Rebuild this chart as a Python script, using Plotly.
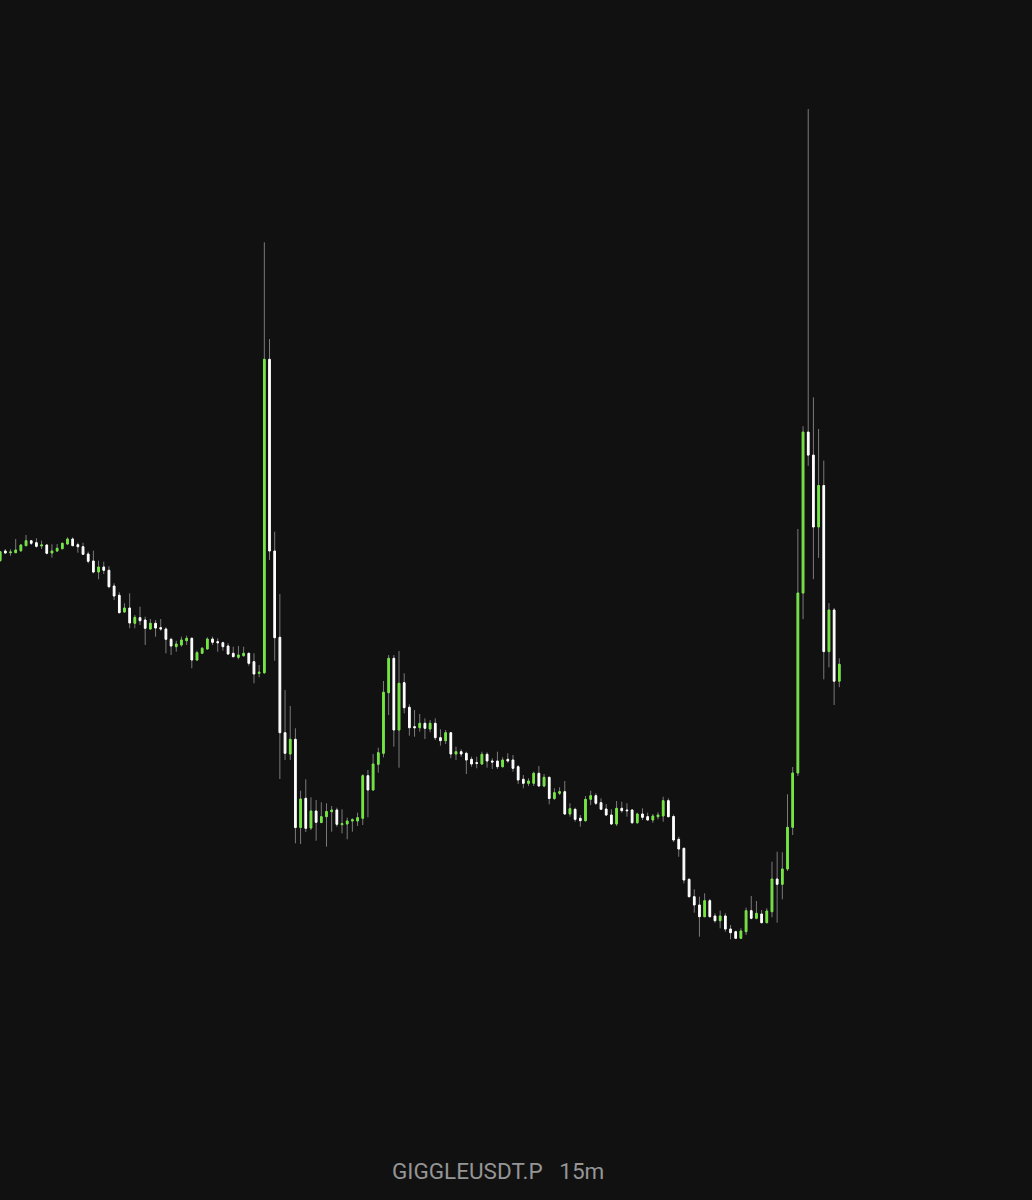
import plotly.graph_objects as go

# Candle data (15m candles), price units arbitrary (axis hidden)
open_ = [639.3, 649, 647.3, 647.3, 649.3, 654.3, 659.3, 657.3, 654, 655,
         647, 649, 651.3, 656, 661, 655.3, 653.3, 646, 639, 628,
         633, 629.7, 614, 604.7, 588, 592, 576.7, 582.3, 580, 571,
         576.7, 572.3, 571, 560.7, 553.3, 555, 559.3, 561.7, 540, 546.7,
         551, 561, 558.3, 557.3, 554, 546.7, 542.7, 544.3, 546.7, 538.3,
         526.7, 527.3, 840.7, 649, 562.7, 467.3, 446, 460.7, 372.5, 401.7,
         372, 389, 377.5, 383.3, 388.3, 390, 375.3, 376, 379, 379,
         381.7, 424.3, 410, 435.7, 446.7, 507.3, 541.7, 470, 517.3, 492.7,
         473.3, 472.3, 476.7, 471, 476.7, 462.3, 459.3, 467.3, 446, 448.3,
         446.7, 440.7, 437.3, 436, 445.7, 439, 439, 433.3, 440.7, 440,
         433.3, 420.7, 416.7, 416.7, 426.7, 414, 422.7, 401.5, 406.7, 408.3,
         386, 390.7, 381.7, 379.3, 400.7, 404.3, 397.3, 391, 385, 376,
         391.7, 390, 390, 377.3, 386, 383.3, 380, 383.3, 384, 399.3,
         383.5, 360.7, 351.7, 320.7, 303.3, 295, 283.3, 299.3, 284, 279.3,
         284, 271, 268.3, 261.7, 268.3, 289.3, 281.7, 286, 277.3, 288.3,
         321, 315.7, 331, 372.7, 427, 607, 767.9, 744.9, 673, 714.5,
         548.4, 590, 518.8]
high = [649, 651, 650.7, 661, 656, 665, 659.7, 661.7, 659.3, 655.7,
        655.7, 656, 657.3, 662.7, 662.7, 657.3, 657.3, 648.3, 649.3, 639.3,
        638.3, 633.7, 616.7, 607.7, 596.7, 606.7, 585, 593.3, 583.3, 581,
        580, 581, 572.7, 562.3, 559.3, 563.3, 564.3, 562.7, 549.3, 553,
        562.7, 563.3, 561.7, 558.3, 556.7, 553.3, 554, 553.3, 547.3, 546.7,
        535, 957.7, 861, 668.3, 606, 510, 494, 471.7, 409.3, 420.7,
        402.7, 400, 397.7, 396.7, 394, 392.3, 390.7, 382.3, 381.7, 387.3,
        425.7, 430, 446, 452.3, 519, 545, 545, 549, 526.7, 495.7,
        490, 486, 481.7, 480, 481.7, 470.7, 470, 467.7, 453.3, 450.7,
        448.3, 443.3, 443.3, 448.3, 447.7, 441.7, 448.3, 442.7, 446.7, 445,
        435, 425, 421.7, 428.3, 434, 426, 423.3, 411.7, 412.7, 419,
        396.7, 392.3, 385, 404, 409.3, 406.7, 401.7, 396, 390.7, 399,
        398.3, 396.7, 390.7, 387.3, 391.7, 387.3, 386, 387.7, 403.3, 401.7,
        385.5, 363.3, 352.3, 321.7, 310.7, 303.3, 306.7, 301, 286.7, 289.3,
        286.7, 275, 269.3, 271.7, 292.3, 304, 299, 290, 291.7, 338.3,
        348.3, 347.7, 405.7, 433, 671, 773.8, 1090.9, 802.6, 771, 739.4,
        597, 592, 541.7]
low = [638.5, 646, 644.3, 647, 648, 654, 655, 652.3, 651, 645.7,
       642.3, 648, 650.7, 655, 654, 647.3, 645, 636.7, 626.7, 620.7,
       626, 611.7, 600, 586.7, 587.3, 571.7, 571.7, 575, 555, 570.5,
       563.3, 569.3, 546.7, 545, 548.3, 553.3, 555, 531.7, 539, 546,
       550.7, 555, 548.3, 549.3, 545, 542.7, 540.7, 543.3, 534.3, 516.7,
       522.7, 526, 640, 539.3, 421, 440, 440, 356.7, 356, 368,
       370, 359.3, 376.7, 353.3, 368.3, 373.3, 366.7, 360.7, 368.3, 374,
       375, 382.7, 409.3, 427.3, 442.7, 485, 453.3, 432.3, 486.7, 464.3,
       463.3, 468.3, 461, 467.7, 460, 454.3, 456, 441.7, 440, 443.3,
       426, 433.3, 431.7, 435, 432.3, 431, 431, 432.3, 437.3, 428.3,
       416, 411.7, 414, 414, 413.3, 412.7, 395.7, 400, 405, 385,
       383.3, 378.3, 373.3, 378.3, 395, 395, 390, 384, 375, 374,
       387.3, 383.3, 376, 376, 380, 379.3, 377.3, 380.7, 378.3, 382.7,
       358, 343.3, 316.7, 302.7, 287.3, 263.3, 282.7, 282.7, 277.3, 271.7,
       268.3, 260.7, 261, 261, 265, 280.7, 280.7, 276.7, 276.7, 282.7,
       277.3, 300.7, 329, 365, 424, 580.8, 734.2, 620.8, 642.1, 520.7,
       532.6, 495, 512.8]
close = [648.3, 647, 648, 650, 655, 659.3, 656.7, 653.7, 655, 646.7,
         649, 651.7, 656.7, 661, 654.3, 653.3, 645.7, 638.7, 628, 633,
         629.7, 613.3, 604, 587.3, 592, 577, 582.7, 579.3, 571.7, 576.7,
         572, 571, 560.7, 554, 556, 560, 561.7, 540, 547.3, 551.7,
         561, 557.7, 557.3, 553.3, 546, 543.3, 545, 546.7, 536.7, 526,
         527.7, 840.7, 649, 562.3, 467.3, 446.7, 460.7, 372.5, 401, 371.7,
         389, 377.7, 383.3, 388.5, 390, 375.7, 376.3, 379, 380.3, 382.3,
         424.3, 410, 436, 447.3, 507.7, 541.7, 470, 516.7, 492.3, 472.3,
         472.3, 476.7, 471.7, 476.7, 462.3, 459.3, 467.3, 446, 448.3, 446,
         440, 436, 436.7, 445.7, 439, 438, 433.3, 440, 439, 431.7,
         420, 416.7, 419, 426.7, 414, 422.7, 401.5, 407.3, 408.3, 386,
         391.3, 380.7, 379.3, 400.7, 404.3, 396.7, 390.7, 385, 376, 391.7,
         389.3, 389.3, 377.3, 386, 382.7, 380, 384, 385, 399.3, 383.3,
         360, 351, 320, 303.3, 295, 283.3, 299.3, 283.3, 279.3, 284,
         271, 267.3, 261.7, 269, 289.3, 281.7, 286.7, 277.3, 289, 321,
         315.7, 331, 372.7, 427, 607, 767.9, 744.9, 673, 714.5, 548.4,
         590, 518.8, 535.7]
candle_index = list(range(len(open_)))

symbol_label = "GIGGLEUSDT.P"
interval_label = "15m"

GREEN = "#72e83e"
WHITE = "#ffffff"
WICK = "#7a7a7a"
BG = "#111111"

body_top = [max(o, c) for o, c in zip(open_, close)]
body_bot = [min(o, c) for o, c in zip(open_, close)]

fig = go.Figure()

# wicks
fig.add_trace(go.Candlestick(
    x=candle_index, open=open_, high=high, low=low, close=close,
    increasing=dict(line=dict(color=WICK, width=1), fillcolor="rgba(0,0,0,0)"),
    decreasing=dict(line=dict(color=WICK, width=1), fillcolor="rgba(0,0,0,0)"),
    whiskerwidth=0, hoverinfo="skip", showlegend=False,
))

# bodies
fig.add_trace(go.Candlestick(
    x=candle_index, open=open_, high=body_top, low=body_bot, close=close,
    increasing=dict(line=dict(color=GREEN, width=1), fillcolor=GREEN),
    decreasing=dict(line=dict(color=WHITE, width=1), fillcolor=WHITE),
    whiskerwidth=0, showlegend=False,
))

step_px = 5.18
first_px = 0.15
W, H = 1032, 1200
xmin = -first_px / step_px
xmax = xmin + W / step_px

fig.update_layout(
    width=W, height=H,
    margin=dict(l=0, r=0, t=0, b=0),
    paper_bgcolor=BG, plot_bgcolor=BG,
    boxgap=0.55, boxmode="overlay",
    xaxis=dict(visible=False, range=[xmin, xmax], rangeslider=dict(visible=False),
               fixedrange=True),
    yaxis=dict(visible=False, range=[0, 1200], fixedrange=True),
    showlegend=False,
    annotations=[dict(
        text=symbol_label + "\u00a0\u00a0\u00a0" + interval_label,
        x=498 / W, y=1 - 1171 / H, xref="paper", yref="paper",
        xanchor="center", yanchor="middle", showarrow=False,
        font=dict(family="Roboto, Liberation Sans, sans-serif", size=22.5, color="#959595"),
    )],
)

fig.write_html(
    "out.html",
    config={"displayModeBar": False},
    post_script="document.body.style.margin='0';document.body.style.background='#111111';"
                "document.documentElement.style.background='#111111';",
)
